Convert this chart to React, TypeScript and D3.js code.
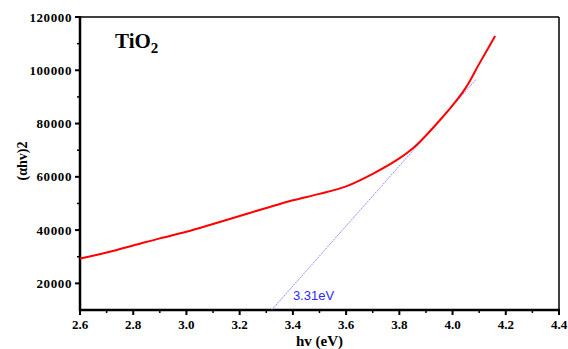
import React, { useEffect, useRef } from 'react';
import * as d3 from 'd3';

// photon energy (eV) and (αhv)^2
const hv = [2.6, 2.7, 2.8, 2.9, 3.0, 3.1, 3.2, 3.3, 3.4, 3.5, 3.6, 3.7, 3.8, 3.85, 3.9, 3.95, 4.0, 4.05, 4.1, 4.16];
const ahv2 = [29300, 31600, 34200, 36900, 39400, 42300, 45300, 48300, 51200, 53600, 56400, 61100, 66900, 70600, 75500, 81000, 86800, 93500, 102400, 112900];

// linear extrapolation (tangent) to the band gap
const tangentHv = [3.32, 4.09];
const tangentY = [10000, 96750];
const gapLabel = '3.31eV';

const xTicks = [2.6, 2.8, 3.0, 3.2, 3.4, 3.6, 3.8, 4.0, 4.2, 4.4];
const yTicks = [20000, 40000, 60000, 80000, 100000, 120000];

const W = 568;
const H = 349;
const SERIF = 'Liberation Serif';

const App: React.FC = () => {
  const svgRef = useRef<SVGSVGElement>(null);

  useEffect(() => {
    if (!svgRef.current) return;
    const svg = d3.select(svgRef.current);
    svg.selectAll('*').remove();

    const left = 80, right = 559, top = 17, bottom = 310;
    const x = d3.scaleLinear().domain([2.6, 4.4]).range([left, right]);
    const y = d3.scaleLinear().domain([10000, 120000]).range([bottom, top]);

    // frame: thin top / right
    svg.append('line').attr('x1', left).attr('x2', right).attr('y1', top).attr('y2', top)
      .attr('stroke', '#000').attr('stroke-width', 1.5);
    svg.append('line').attr('x1', right).attr('x2', right).attr('y1', top).attr('y2', bottom)
      .attr('stroke', '#000').attr('stroke-width', 1.5);

    // minor ticks
    const xMinor = d3.range(2.7, 4.4, 0.2);
    svg.selectAll('.xminor').data(xMinor).enter().append('line')
      .attr('x1', d => x(d)).attr('x2', d => x(d)).attr('y1', bottom).attr('y2', bottom + 3)
      .attr('stroke', '#000').attr('stroke-width', 1.5);
    const yMinor = d3.range(30000, 120000, 20000);
    svg.selectAll('.yminor').data(yMinor).enter().append('line')
      .attr('x1', left - 3).attr('x2', left).attr('y1', d => y(d)).attr('y2', d => y(d))
      .attr('stroke', '#000').attr('stroke-width', 1.5);

    // major ticks
    svg.selectAll('.xmajor').data(xTicks).enter().append('line')
      .attr('x1', d => x(d)).attr('x2', d => x(d)).attr('y1', bottom).attr('y2', bottom + 5)
      .attr('stroke', '#000').attr('stroke-width', 2);
    svg.selectAll('.ymajor').data(yTicks).enter().append('line')
      .attr('x1', left - 5).attr('x2', left).attr('y1', d => y(d)).attr('y2', d => y(d))
      .attr('stroke', '#000').attr('stroke-width', 2);

    // thick left / bottom axes
    svg.append('line').attr('x1', left).attr('x2', left).attr('y1', top - 1).attr('y2', bottom + 1)
      .attr('stroke', '#000').attr('stroke-width', 2.5);
    svg.append('line').attr('x1', left - 1).attr('x2', right + 1).attr('y1', bottom).attr('y2', bottom)
      .attr('stroke', '#000').attr('stroke-width', 2.5);

    // tick labels
    svg.selectAll('.xlabel').data(xTicks).enter().append('text')
      .attr('x', d => x(d)).attr('y', bottom + 19)
      .attr('text-anchor', 'middle')
      .attr('font-family', SERIF).attr('font-size', 13).attr('font-weight', 'bold')
      .text(d => d3.format('.1f')(d));
    svg.selectAll('.ylabel').data(yTicks).enter().append('text')
      .attr('x', left - 8).attr('y', d => y(d)).attr('dy', '0.35em')
      .attr('text-anchor', 'end')
      .attr('font-family', SERIF).attr('font-size', 13).attr('font-weight', 'bold')
      .attr('letter-spacing', 0.6)
      .text(d => String(d));

    // axis titles
    svg.append('text')
      .attr('x', (left + right) / 2).attr('y', 346)
      .attr('text-anchor', 'middle')
      .attr('font-family', SERIF).attr('font-size', 15).attr('font-weight', 'bold')
      .text('hv (eV)');
    svg.append('text')
      .attr('transform', 'translate(27,161) rotate(-90)')
      .attr('text-anchor', 'middle')
      .attr('font-family', SERIF).attr('font-size', 14).attr('font-weight', 'bold')
      .text('(αhv)2');

    // tangent line
    svg.append('line')
      .attr('x1', x(tangentHv[0])).attr('y1', y(tangentY[0]))
      .attr('x2', x(tangentHv[1])).attr('y2', y(tangentY[1]))
      .attr('stroke', '#6b6bff').attr('stroke-width', 0.8)
      .attr('stroke-dasharray', '2,1');

    // data curve
    const line = d3.line<number>()
      .x((d, i) => x(hv[i]))
      .y(d => y(d))
      .curve(d3.curveCatmullRom.alpha(0.5));
    svg.append('path')
      .datum(ahv2)
      .attr('d', line)
      .attr('fill', 'none')
      .attr('stroke', '#ff0000')
      .attr('stroke-width', 2);

    // band gap label
    svg.append('text')
      .attr('x', x(3.4)).attr('y', y(13900))
      .attr('font-family', 'Liberation Sans').attr('font-size', 13)
      .attr('fill', '#2b2bff')
      .text(gapLabel);

    // sample name
    const t = svg.append('text')
      .attr('x', 115).attr('y', 48)
      .attr('font-family', SERIF).attr('font-size', 21).attr('font-weight', 'bold');
    t.append('tspan').text('TiO');
    t.append('tspan').attr('dy', 5).attr('font-size', 15).text('2');
  }, []);

  return (
    <svg ref={svgRef} width={W} height={H}
      style={{ position: 'absolute', left: 0, top: 0, background: '#fff' }} />
  );
};

export default App;
